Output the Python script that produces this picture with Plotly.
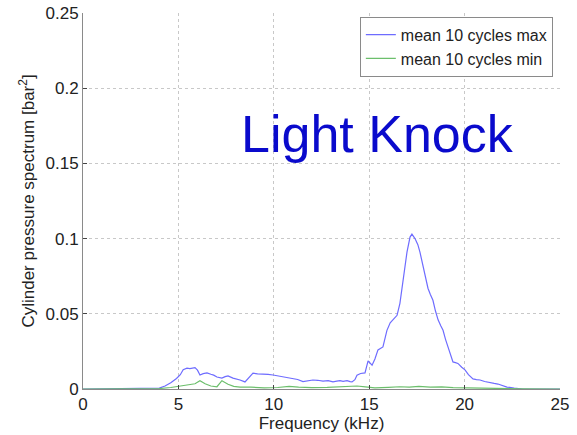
import plotly.graph_objects as go

# Spectrum of the in-cylinder pressure, averaged over 10 cycles
freq_max_khz = [0, 1, 2, 3, 3.7, 4.0, 4.3, 4.6, 4.9, 5.1, 5.25, 5.45, 5.6, 5.87, 6.0, 6.13,
                6.3, 6.5, 6.7, 6.85, 7.02, 7.28, 7.45, 7.6, 7.86, 8.05, 8.23, 8.49, 8.7,
                8.91, 9.15, 9.43, 9.7, 9.96, 10.2, 10.48, 10.75, 11.0, 11.25, 11.53, 11.8,
                12.05, 12.3, 12.58, 12.85, 13.1, 13.3, 13.47, 13.63, 13.84, 14.0, 14.1,
                14.25, 14.36, 14.55, 14.78, 14.94, 15.15, 15.3, 15.46, 15.72, 15.93, 16.1,
                16.3, 16.46, 16.61, 16.77, 16.98, 17.14, 17.24, 17.4, 17.55, 17.66, 17.82,
                17.95, 18.08, 18.2, 18.34, 18.47, 18.61, 18.75, 18.87, 19.0, 19.13, 19.26,
                19.39, 19.52, 19.65, 19.85, 20.02, 20.2, 20.44, 20.62, 20.81, 21.05, 21.33,
                21.55, 21.75, 22.0, 22.22, 22.6, 23.06, 23.5, 25]
spec_max = [0.0, 0.0002, 0.0002, 0.0002, 0.0003, 0.0006, 0.002, 0.0042, 0.007, 0.0095,
            0.0128, 0.0138, 0.0135, 0.0142, 0.0125, 0.0093, 0.0102, 0.0107, 0.0098, 0.0092,
            0.008, 0.0073, 0.0082, 0.0087, 0.0072, 0.0068, 0.006, 0.0047, 0.0075, 0.0105,
            0.0101, 0.01, 0.0097, 0.0093, 0.0088, 0.008, 0.0074, 0.0067, 0.0063, 0.0049,
            0.0057, 0.006, 0.0058, 0.0053, 0.0056, 0.0047, 0.0052, 0.0055, 0.0051, 0.0056,
            0.0049, 0.0047, 0.0062, 0.0092, 0.0103, 0.0107, 0.0187, 0.0158, 0.02, 0.026,
            0.028, 0.039, 0.044, 0.047, 0.049, 0.057, 0.073, 0.091, 0.101, 0.103, 0.1,
            0.096, 0.091, 0.081, 0.074, 0.067, 0.063, 0.059, 0.052, 0.046, 0.042, 0.039,
            0.033, 0.028, 0.022, 0.018, 0.0175, 0.017, 0.0145, 0.0127, 0.0095, 0.0067,
            0.0062, 0.006, 0.005, 0.004, 0.0037, 0.0033, 0.0022, 0.0013, 0.0006, 0.0, 0.0,
            0.0]

freq_min_khz = [0, 2, 4, 4.6, 5.2, 5.6, 5.87, 6.13, 6.4, 6.7, 7.02, 7.28, 7.6, 7.9, 8.23,
                8.8, 9.5, 10.2, 10.8, 11.3, 12.0, 12.8, 13.5, 14.0, 14.36, 14.8, 15.3,
                16.0, 16.6, 17.1, 17.6, 18.2, 18.8, 19.4, 20.0, 20.6, 21.5, 23.0, 25]
spec_min = [0.0, 0.0001, 0.0003, 0.001, 0.0022, 0.0028, 0.0035, 0.0055, 0.0035, 0.002,
            0.0015, 0.0055, 0.0032, 0.0018, 0.0013, 0.0012, 0.0008, 0.001, 0.0018, 0.0012,
            0.0009, 0.0011, 0.0013, 0.0015, 0.002, 0.0014, 0.0008, 0.0011, 0.0015, 0.0013,
            0.0018, 0.0012, 0.0014, 0.0009, 0.0007, 0.0004, 0.0003, 0.0001, 0.0]

x_ticks = [0, 5, 10, 15, 20, 25]
y_ticks = [0, 0.05, 0.1, 0.15, 0.2, 0.25]

FONT = "Liberation Sans, Arial, sans-serif"

fig = go.Figure()
fig.add_trace(go.Scatter(x=freq_max_khz, y=spec_max, mode="lines",
                         name="mean 10 cycles max",
                         line=dict(color="#6e6cff", width=1.2)))
fig.add_trace(go.Scatter(x=freq_min_khz, y=spec_min, mode="lines",
                         name="mean 10 cycles min",
                         line=dict(color="#6cbf6c", width=1.2)))

axis_common = dict(showline=True, linecolor="#8a8a8a", linewidth=1,
                   ticks="inside", ticklen=4, tickcolor="#444",
                   showgrid=True, gridcolor="#c8c8c8", griddash="dot", gridwidth=1,
                   zeroline=False, tickfont=dict(family=FONT, size=17, color="#222"),
                   mirror=False, automargin=False)

fig.update_xaxes(range=[0, 25], tickvals=x_ticks, ticktext=[str(v) for v in x_ticks],
                 title=dict(text="Frequency (kHz)", standoff=2,
                            font=dict(family=FONT, size=17, color="#222")),
                 **axis_common)
fig.update_yaxes(range=[0, 0.25], tickvals=y_ticks,
                 ticktext=["0", "0.05", "0.1", "0.15", "0.2", "0.25"],
                 title=dict(text="Cylinder pressure spectrum [bar<sup>2</sup>]", standoff=6,
                            font=dict(family=FONT, size=17, color="#222")),
                 **axis_common)

fig.add_annotation(text="Light Knock", xref="paper", yref="paper", x=0.618, y=0.678,
                   xanchor="center", yanchor="middle", showarrow=False,
                   font=dict(family=FONT, size=52, color="#0a0acc"))

fig.update_layout(
    width=577, height=435,
    margin=dict(l=83, r=17, t=13, b=46),
    paper_bgcolor="white", plot_bgcolor="white",
    font=dict(family=FONT, size=17, color="#222"),
    showlegend=True,
    legend=dict(x=0.985, y=0.99, xanchor="right", yanchor="top",
                bgcolor="white", bordercolor="#8a8a8a", borderwidth=1,
                font=dict(family=FONT, size=16, color="#222"),
                itemwidth=30, tracegroupgap=0),
)

fig.write_html("out.html")
